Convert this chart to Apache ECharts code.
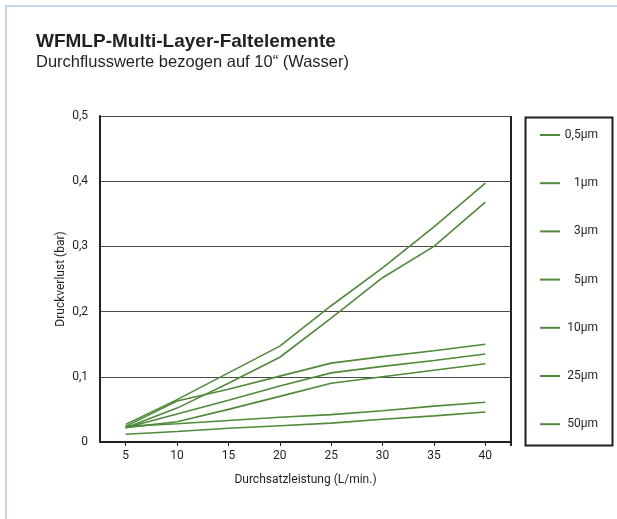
<!DOCTYPE html>
<html><head><meta charset="utf-8">
<script src="https://cdn.jsdelivr.net/npm/echarts@6/dist/echarts.min.js"></script>
<style>
html,body{margin:0;padding:0;background:#fff;overflow:hidden;}
#frame{position:absolute;left:5px;top:5px;width:700px;height:600px;border:2px solid #c5d5ea;box-sizing:border-box;}
#c{position:absolute;left:0;top:0;width:617px;height:519px;}
</style></head>
<body>
<div id="frame"></div>
<div id="c"></div>
<script>
const flows = [5, 10, 15, 20, 25, 30, 35, 40];
const xTicks = [5, 10, 15, 20, 25, 30, 35, 40];
const yTicks = [0, 0.1, 0.2, 0.3, 0.4, 0.5];
const seriesNames = ['0,5µm', '1µm', '3µm', '5µm', '10µm', '25µm', '50µm'];
const s05 = [0.027, 0.065, 0.106, 0.147, 0.209, 0.267, 0.330, 0.397];
const s1  = [0.022, 0.052, 0.090, 0.130, 0.190, 0.252, 0.300, 0.368];
const s3  = [0.024, 0.063, 0.081, 0.101, 0.121, 0.131, 0.140, 0.150];
const s5  = [0.022, 0.043, 0.064, 0.086, 0.106, 0.116, 0.125, 0.135];
const s10 = [0.022, 0.031, 0.050, 0.070, 0.090, 0.100, 0.110, 0.120];
const s25 = [0.024, 0.028, 0.033, 0.038, 0.042, 0.048, 0.055, 0.061];
const s50 = [0.012, 0.016, 0.021, 0.025, 0.029, 0.035, 0.040, 0.046];
const allValues = [s05, s1, s3, s5, s10, s25, s50];

const green = '#4f8a3a';
const cond = '"Liberation Sans Narrow", "Roboto", sans-serif';

const chart = echarts.init(document.getElementById('c'), null, {renderer: 'canvas'});
chart.setOption({
  animation: false,
  title: {
    text: 'WFMLP-Multi-Layer-Faltelemente',
    subtext: 'Durchflusswerte bezogen auf 10“ (Wasser)',
    left: 31, top: 27, itemGap: 3,
    textStyle: {fontFamily: 'Liberation Sans, Arial, sans-serif', fontSize: 19, fontWeight: 'bold', color: '#231f20'},
    subtextStyle: {fontFamily: 'Liberation Sans, Arial, sans-serif', fontSize: 16.5, color: '#231f20'}
  },
  grid: {left: 100, top: 116, right: 106, bottom: 77},
  graphic: [{
    type: 'rect', left: 523, top: 115,
    shape: {width: 87, height: 328},
    style: {fill: 'none', stroke: '#231f20', lineWidth: 2}
  }, {
    type: 'line', shape: {x1: 511, y1: 116, x2: 511, y2: 446},
    style: {stroke: '#231f20', lineWidth: 2}
  }],
  legend: {
    orient: 'vertical', left: 535, top: 124,
    itemWidth: 20, itemHeight: 2, itemGap: 36.2,
    icon: 'rect',
    data: seriesNames,
    formatter: n => '{a|' + n + '}',
    textStyle: {
      fontFamily: cond, fontSize: 12, color: '#231f20',
      rich: {a: {width: 33, align: 'right', fontFamily: cond, fontSize: 12, color: '#231f20', height: 14}}
    }
  },
  xAxis: {
    type: 'value', min: 2.5, max: 42.5,
    name: 'Durchsatzleistung (L/min.)', nameLocation: 'middle', nameGap: 32,
    nameTextStyle: {fontFamily: cond, fontSize: 12, color: '#231f20'},
    axisLine: {lineStyle: {color: '#231f20', width: 2}},
    axisTick: {show: true, inside: false, length: 4, customValues: xTicks, lineStyle: {color: '#231f20', width: 1}},
    axisLabel: {customValues: xTicks, margin: 8, fontFamily: cond, fontSize: 12, color: '#231f20'},
    splitLine: {show: false}
  },
  yAxis: {
    type: 'value', min: 0, max: 0.5, interval: 0.1,
    name: 'Druckverlust (bar)', nameLocation: 'middle', nameGap: 33, nameRotate: 90,
    nameMoveOverlap: false,
    nameTextStyle: {fontFamily: cond, fontSize: 12, color: '#231f20'},
    axisLine: {show: true, lineStyle: {color: '#231f20', width: 2}},
    axisTick: {show: false},
    axisLabel: {margin: 12, fontFamily: cond, fontSize: 12, color: '#231f20',
      formatter: v => v === 0 ? '0' : v.toFixed(1).replace('.', ',')},
    splitLine: {show: true, lineStyle: {color: '#4a4a4a', width: 1}}
  },
  series: allValues.map((vals, i) => ({
    name: seriesNames[i], type: 'line', symbol: 'none',
    color: green,
    lineStyle: {color: green, width: 1.6},
    data: flows.map((f, j) => [f, vals[j]])
  }))
});
</script>
</body></html>
